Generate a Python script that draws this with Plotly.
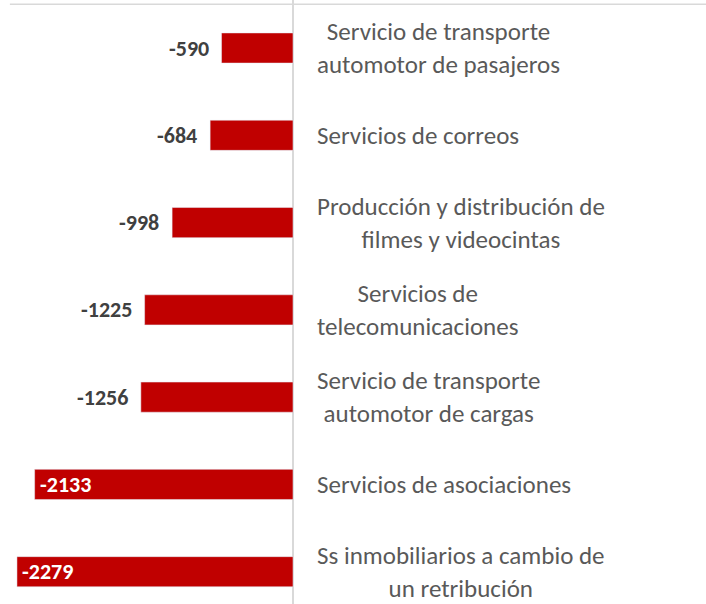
import plotly.graph_objects as go

categorias = [
    "Servicio de transporte<br>automotor de pasajeros",
    "Servicios de correos",
    "Producción y distribución de<br>filmes y videocintas",
    "Servicios de<br>telecomunicaciones",
    "Servicio de transporte<br>automotor de cargas",
    "Servicios de asociaciones",
    "Ss inmobiliarios a cambio de<br>un retribución",
]
valores = [-590, -684, -998, -1225, -1256, -2133, -2279]
etiquetas = [str(v) for v in valores]
dentro = [False, False, False, False, False, True, True]

ROJO = "#C00000"
FUENTE = "Carlito, Calibri, Lato, sans-serif"

fig = go.Figure(
    go.Bar(
        x=valores,
        y=categorias,
        orientation="h",
        marker_color=ROJO,
        width=0.345,
        hoverinfo="x+y",
    )
)

for cat, val, txt, ins in zip(categorias, valores, etiquetas, dentro):
    # etiqueta del valor
    fig.add_annotation(
        x=val, y=cat, text=f"<b>{txt}</b>", showarrow=False,
        xanchor="left" if ins else "right",
        xshift=3 if ins else -11,
        font=dict(family=FUENTE, size=22, color="white" if ins else "#404040"),
    )
    # nombre de la categoria, a la derecha del eje
    fig.add_annotation(
        x=0, y=cat, text=cat, showarrow=False, xanchor="left", xshift=22,
        align="center",
        font=dict(family=FUENTE, size=25, color="#595959"),
    )

fig.add_shape(
    type="line", xref="paper", yref="paper", x0=0.014, x1=1, y0=0.993, y1=0.993,
    line=dict(color="#D9D9D9", width=1.5),
)

fig.update_xaxes(
    range=[-2419, 3410], showgrid=False, showticklabels=False,
    zeroline=True, zerolinecolor="#D9D9D9", zerolinewidth=1.5,
)
fig.update_yaxes(
    range=[6.37, -0.55], showgrid=False, showticklabels=False, zeroline=False,
)
fig.update_layout(
    width=706, height=604,
    margin=dict(l=0, r=0, t=0, b=0),
    plot_bgcolor="white", paper_bgcolor="white",
    showlegend=False,
)

# sin margen de pagina, para que el grafico quede en la esquina
fig.write_html(
    "out.html",
    config={"displayModeBar": False},
    post_script="document.body.style.margin='0';",
)
